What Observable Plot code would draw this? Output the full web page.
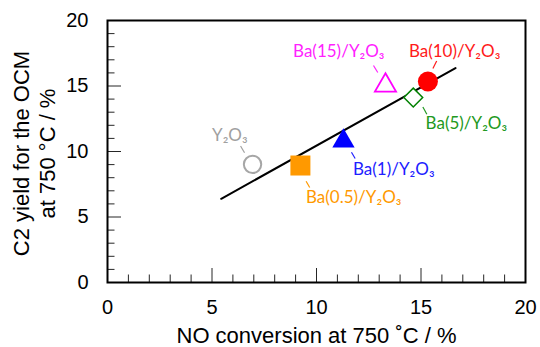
<!DOCTYPE html>
<html>
<head>
<meta charset="utf-8">
<script src="https://cdn.jsdelivr.net/npm/d3@7"></script>
<script src="https://cdn.jsdelivr.net/npm/@observablehq/plot@0.6"></script>
<style>
  html, body { margin: 0; padding: 0; background: #ffffff; }
  #chart { width: 540px; height: 347px; }
</style>
</head>
<body>
<div id="chart"></div>
<script>
// ---- data ----
const catalysts = ["Y₂O₃", "Ba(0.5)/Y₂O₃", "Ba(1)/Y₂O₃", "Ba(5)/Y₂O₃", "Ba(10)/Y₂O₃", "Ba(15)/Y₂O₃"];
const noConversion = [6.94, 9.23, 11.29, 14.63, 15.33, 13.30];
const c2Yield = [9.02, 8.93, 11.04, 14.12, 15.34, 15.27];

// trend line end points
const trendX = [5.44, 16.65];
const trendY = [6.39, 16.37];

// axes
const xTicks = [0, 5, 10, 15, 20];
const yTicks = [0, 5, 10, 15, 20];
const xMinorTicks = [1, 2, 3, 4, 6, 7, 8, 9, 11, 12, 13, 14, 16, 17, 18, 19];
const yMinorTicks = [1, 2, 3, 4, 6, 7, 8, 9, 11, 12, 13, 14, 16, 17, 18, 19];
const xMajorInner = [5, 10, 15];
const yMajorInner = [5, 10, 15];
const xTitle = "NO conversion at 750 ˚C / %";
const yTitle = "C2 yield for the OCM\nat 750 °C / %";

// ---- styles / layout (separate from data) ----
const sqSym = {draw(c, size) {const r = Math.sqrt(size / Math.PI); c.rect(-r, -r, 2 * r, 2 * r);}};
const triSym = {draw(c, size) {const r = Math.sqrt(size / Math.PI); c.moveTo(0, -r); c.lineTo(1.15 * r, r); c.lineTo(-1.15 * r, r); c.closePath();}};
const diaSym = {draw(c, size) {const r = Math.sqrt(size / Math.PI); c.moveTo(0, -r); c.lineTo(r, 0); c.lineTo(0, r); c.lineTo(-r, 0); c.closePath();}};

const markerStyle = [
  {symbol: "circle", r: 8.7, fill: "none", stroke: "#a6a6a6", strokeWidth: 2},
  {symbol: sqSym, r: 10, fill: "#ff9900", stroke: "none", strokeWidth: 0},
  {symbol: triSym, r: 9.7, fill: "#0000ff", stroke: "none", strokeWidth: 0},
  {symbol: diaSym, r: 9.4, fill: "#ffffff", stroke: "#008000", strokeWidth: 1.5},
  {symbol: "circle", r: 10, fill: "#ff0000", stroke: "none", strokeWidth: 0},
  {symbol: triSym, r: 9.2, fill: "#ffffff", stroke: "#ff00ff", strokeWidth: 1.8}
];
const labelColor = ["#a0a0a0", "#ff9900", "#2020ff", "#229922", "#ff1a1a", "#ff22ff"];
// label centre offsets (px) from marker
const labelDx = [-22.7, 53.3, 50.3, 53.1, 26.7, -46.7];
const labelDy = [-28.8, 32.5, 31.6, 26, -30, -31];
// leader line ends, offsets from marker in data units: [dx, dy]
const leadNear = [[-0.383, 0.885], [0.273, -1.198], [0.383, -1.092], [0.459, -0.725], [0.239, 0.992], [-0.368, 0.763]];
const leadFar = [[-0.574, 1.397], [0.445, -1.679], [0.560, -1.573], [0.651, -1.275], [0.421, 1.565], [-0.574, 1.298]];

const axisFont = "'Liberation Sans', Arial, sans-serif";
const labelFont = "Lato, 'DejaVu Sans', sans-serif";
const tickColor = "#262626";

const idx = d3.range(catalysts.length);
const trend = trendX.map((x, i) => ({x, y: trendY[i]}));

const marks = [
  Plot.axisX(xMinorTicks, {tickSize: -7.5, stroke: tickColor, strokeWidth: 1, tickFormat: () => "", label: null}),
  Plot.axisX(xMajorInner, {tickSize: -14, stroke: tickColor, strokeWidth: 1, tickFormat: () => "", label: null}),
  Plot.axisY(yMinorTicks, {tickSize: -7.5, stroke: tickColor, strokeWidth: 1, tickFormat: () => "", label: null}),
  Plot.axisY(yMajorInner, {tickSize: -14, stroke: tickColor, strokeWidth: 1, tickFormat: () => "", label: null}),
  ...idx.map(i => Plot.link([i], {
    x1: j => noConversion[j] + leadNear[j][0], y1: j => c2Yield[j] + leadNear[j][1],
    x2: j => noConversion[j] + leadFar[j][0], y2: j => c2Yield[j] + leadFar[j][1],
    stroke: labelColor[i], strokeWidth: 1.2
  })),
  Plot.line(trend, {x: "x", y: "y", stroke: "#000000", strokeWidth: 2}),
  ...idx.map(i => Plot.dot([i], {
    x: j => noConversion[j], y: j => c2Yield[j],
    symbol: markerStyle[i].symbol, r: markerStyle[i].r,
    fill: markerStyle[i].fill, stroke: markerStyle[i].stroke, strokeWidth: markerStyle[i].strokeWidth
  })),
  ...idx.map(i => Plot.text([i], {
    x: j => noConversion[j], y: j => c2Yield[j], text: j => catalysts[j],
    dx: labelDx[i], dy: labelDy[i], fill: labelColor[i],
    fontSize: 17, fontFamily: labelFont, textAnchor: "middle", lineAnchor: "middle"
  })),
  Plot.frame({stroke: "#000000", strokeWidth: 2}),
  Plot.axisX(xTicks, {tickSize: 0, tickPadding: 17, fontSize: 20, fontFamily: axisFont, label: null, tickFormat: d => String(d)}),
  Plot.axisY(yTicks, {tickSize: 0, tickPadding: 19, fontSize: 20, fontFamily: axisFont, label: null, tickFormat: d => String(d)}),
  Plot.text([xTitle], {text: d => d, frameAnchor: "bottom", dy: 53, fontSize: 22, fontFamily: axisFont, textAnchor: "middle", lineAnchor: "middle"}),
  Plot.text([yTitle], {text: d => d, frameAnchor: "left", rotate: -90, dx: -74, dy: 2, fontSize: 22, lineHeight: 1.2, fontFamily: axisFont, textAnchor: "middle", lineAnchor: "middle"})
];

const chart = Plot.plot({
  width: 540, height: 347,
  marginLeft: 107, marginRight: 15, marginTop: 20, marginBottom: 65,
  x: {domain: [0, 20]},
  y: {domain: [0, 20]},
  style: {background: "#ffffff", color: "#000000"},
  marks
});

document.getElementById("chart").appendChild(chart);
</script>
</body>
</html>
